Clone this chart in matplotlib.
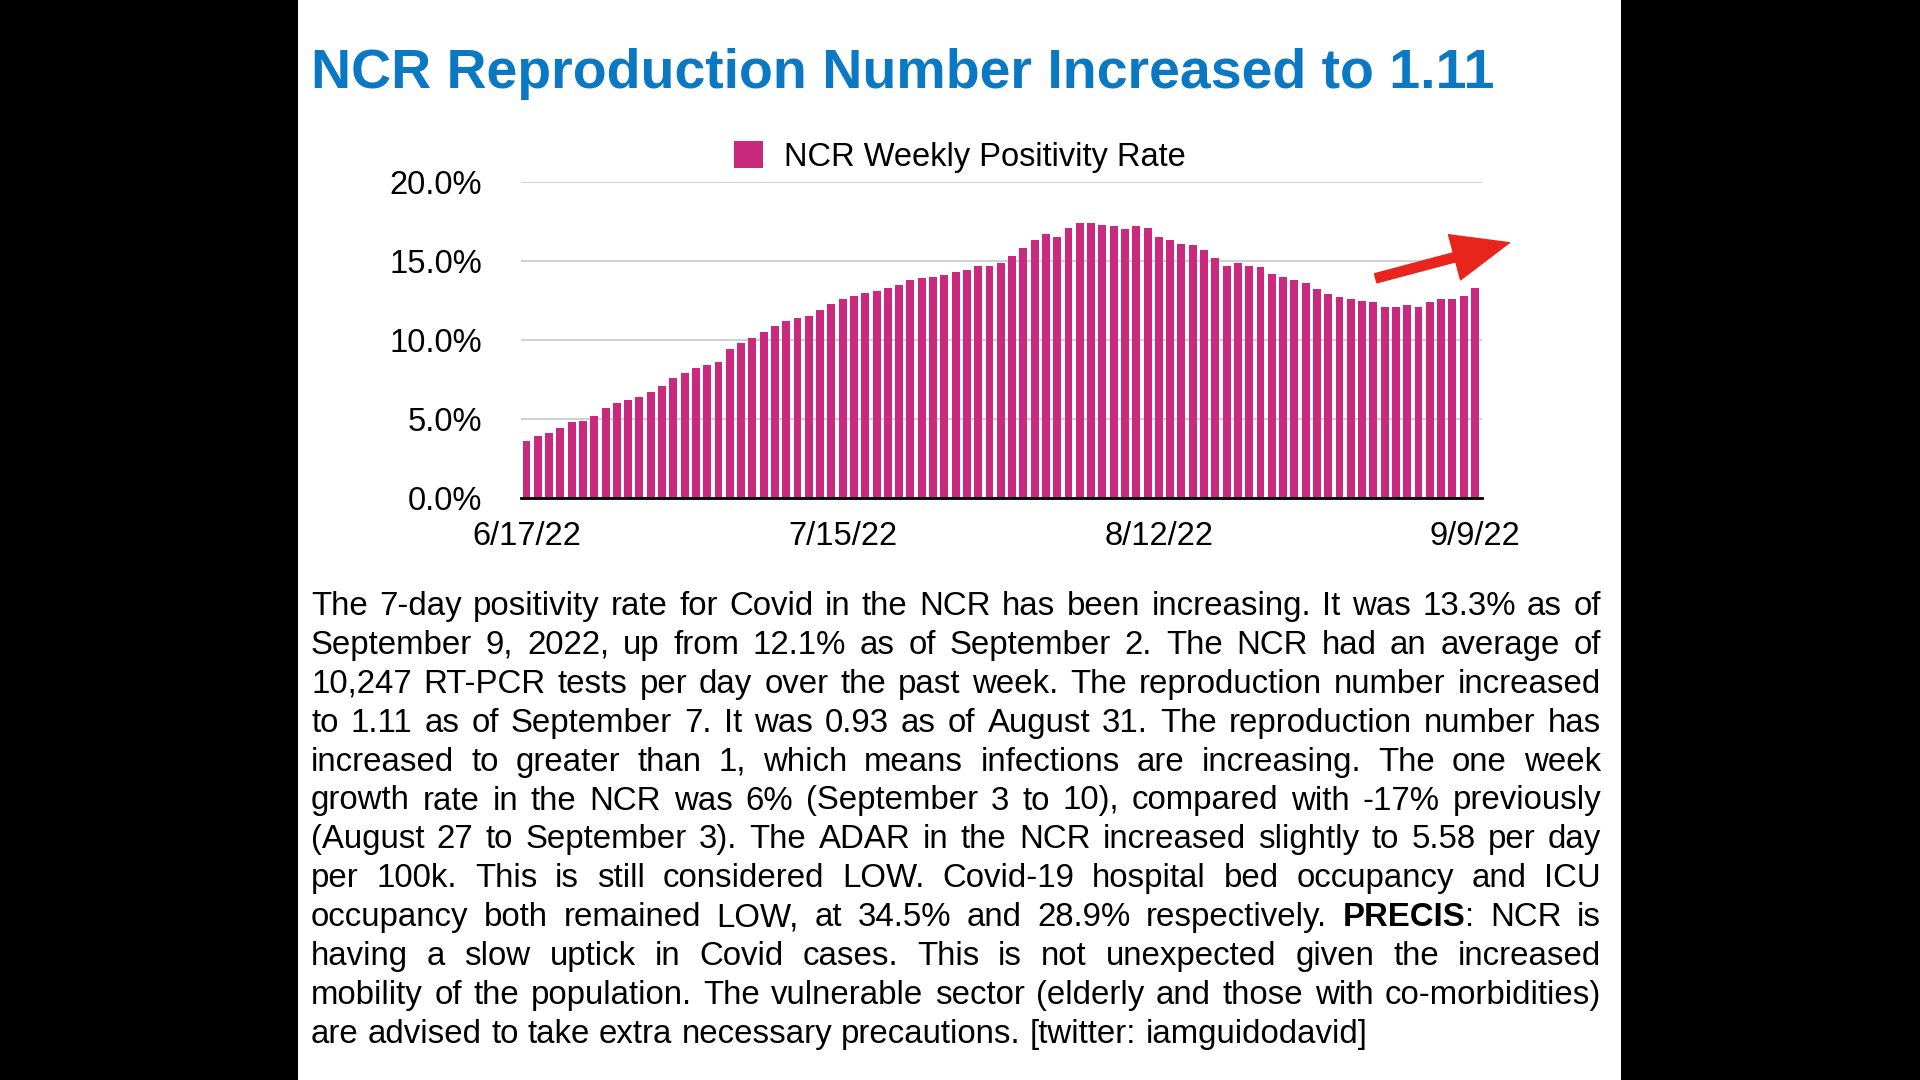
import matplotlib.pyplot as plt
import numpy as np
from matplotlib.patches import Rectangle, FancyArrowPatch

plt.rcParams['font.family'] = ['Liberation Sans', 'DejaVu Sans']

# weekly positivity rate (%) per day, 6/17/22 .. 9/9/22
rate = [3.6, 3.9, 4.1, 4.4, 4.8, 4.9, 5.2, 5.7, 6.0, 6.2, 6.4, 6.7, 7.1, 7.6, 7.9,
        8.2, 8.4, 8.6, 9.4, 9.8, 10.1, 10.5, 10.9, 11.2, 11.4, 11.5, 11.9, 12.3,
        12.6, 12.8, 13.0, 13.1, 13.3, 13.5, 13.8, 13.9, 14.0, 14.1, 14.3, 14.4,
        14.7, 14.7, 14.9, 15.3, 15.8, 16.3, 16.7, 16.5, 17.1, 17.4, 17.4, 17.3,
        17.2, 17.0, 17.2, 17.1, 16.5, 16.3, 16.1, 16.0, 15.7, 15.2, 14.7, 14.9,
        14.7, 14.6, 14.2, 14.0, 13.8, 13.6, 13.2, 12.9, 12.7, 12.6, 12.5, 12.4,
        12.1, 12.1, 12.2, 12.1, 12.4, 12.6, 12.6, 12.8, 13.3]
tick_pos = [0, 28, 56, 84]
tick_labels = ['6/17/22', '7/15/22', '8/12/22', '9/9/22']
y_ticks = [0, 5, 10, 15, 20]

title = 'NCR Reproduction Number Increased to 1.11'
body = [
    "The 7-day positivity rate for Covid in the NCR has been increasing. It was 13.3% as of",
    "September 9, 2022, up from 12.1% as of September 2. The NCR had an average of",
    "10,247 RT-PCR tests per day over the past week. The reproduction number increased",
    "to 1.11 as of September 7. It was 0.93 as of August 31. The reproduction number has",
    "increased to greater than 1, which means infections are increasing. The one week",
    "growth rate in the NCR was 6% (September 3 to 10), compared with -17% previously",
    "(August 27 to September 3). The ADAR in the NCR increased slightly to 5.58 per day",
    "per 100k. This is still considered LOW. Covid-19 hospital bed occupancy and ICU",
    "occupancy both remained LOW, at 34.5% and 28.9% respectively. **PRECIS**: NCR is",
    "having a slow uptick in Covid cases. This is not unexpected given the increased",
    "mobility of the population. The vulnerable sector (elderly and those with co-morbidities)",
    "are advised to take extra necessary precautions. [twitter: iamguidodavid]",
]

W, H = 1920, 1080
fig = plt.figure(figsize=(19.2, 10.8), dpi=100, facecolor='black')
fig.patches.append(Rectangle((298 / W, 0), (1621 - 298) / W, 1, transform=fig.transFigure,
                             facecolor='white', edgecolor='none', zorder=-5))

def fx(px):
    return px / W

def fy(py):
    return 1 - py / H

fig.text(fx(311), fy(88), title, fontsize=40, fontweight='bold', color='#0A78C2',
         ha='left', va='baseline')

ax = fig.add_axes([fx(521), fy(498), fx(1482) - fx(521), (498 - 182) / H])
ax.set_zorder(1)
bar_color = '#C92A7D'
x = np.arange(len(rate))
ax.bar(x, rate, width=0.7, color=bar_color, label='NCR Weekly Positivity Rate', zorder=2)
ax.set_xlim(-0.49, 84.62)
ax.set_ylim(0, 20)
ax.set_yticks(y_ticks)
ax.set_yticklabels([f'{v:.1f}%' for v in y_ticks])
ax.set_xticks(tick_pos)
ax.set_xticklabels(tick_labels)
ax.tick_params(axis='y', length=0, pad=28, labelsize=23.5)
ax.tick_params(axis='x', length=0, pad=16.5, labelsize=23.5)
ax.grid(axis='y', color='#c8c8c8', linewidth=1.2, zorder=0)
for s in ['top', 'right', 'left']:
    ax.spines[s].set_visible(False)
ax.spines['bottom'].set_linewidth(2)
ax.spines['bottom'].set_zorder(3)
ax.set_facecolor('white')

fig.legend(loc='center', bbox_to_anchor=(0.5, fy(157)), frameon=False, fontsize=23.5,
           handlelength=0.9, handleheight=0.9, handletextpad=0.65)

arrow = FancyArrowPatch((fx(1373), fy(279)), (fx(1512), fy(242)), transform=fig.transFigure,
                        arrowstyle='simple,head_length=1.7,head_width=1.4,tail_width=0.28',
                        mutation_scale=24, color='#E8251C', zorder=5)
fig.patches.append(arrow)

# justified paragraph
renderer = fig.canvas.get_renderer()
left, right = 311, 1601
base0, step = 615, 38.9
fs = 23.8

def parts_of(word):
    if '**' in word:
        _, b, rest = word.split('**')
        return [(b, 'bold'), (rest, 'normal')]
    return [(word, 'normal')]

space_t = fig.text(0, 0, 'a a', fontsize=fs)
aa_t = fig.text(0, 0, 'aa', fontsize=fs)
space_w = (space_t.get_window_extent(renderer).width - aa_t.get_window_extent(renderer).width)
space_t.remove()
aa_t.remove()

for i, line in enumerate(body):
    words = line.split()
    items = []
    for w in words:
        segs = []
        for s, wt in parts_of(w):
            if not s:
                continue
            t = fig.text(0, fy(base0 + i * step), s, fontsize=fs, fontweight=wt,
                         color='black', ha='left', va='baseline')
            segs.append((t, t.get_window_extent(renderer).width))
        items.append(segs)
    widths = [sum(wd for _, wd in segs) for segs in items]
    if i < len(body) - 1:
        gap = (right - left - sum(widths)) / (len(items) - 1)
    else:
        gap = space_w
    cx = left
    for segs, wdt in zip(items, widths):
        px = cx
        for t, wd in segs:
            t.set_x(fx(px))
            px += wd
        cx += wdt + gap

fig.savefig('out.png', dpi=100, facecolor='black')
